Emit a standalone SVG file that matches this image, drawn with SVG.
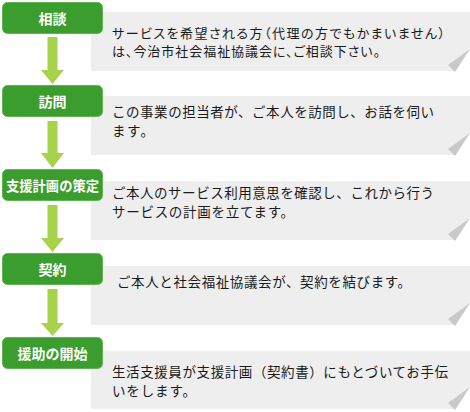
<svg xmlns="http://www.w3.org/2000/svg" width="470" height="412" viewBox="0 0 470 412">
<style>
.box{fill:#3a9d2e;stroke:#5fb64f;stroke-width:1}
.lbl{font-family:"Noto Sans CJK JP","Noto Sans",sans-serif;font-size:14px;font-weight:bold;fill:#ffffff;text-anchor:middle}
.panel{fill:#eeeeee}
.fold{fill:#c9c9c9}
.txt{font-family:"Noto Sans CJK JP","Noto Sans",sans-serif;font-size:13.5px;fill:#1a1a1a}
.p1{font-feature-settings:"palt";font-size:13px}
.arr{fill:#a6d34b}
</style>
<rect width="470" height="412" fill="#ffffff"/>
<g id="connectors">
<path class="arr" d="M47.5 37H57.5V70H64L52.5 84L41 70H47.5Z"/>
<path class="arr" d="M47.5 121H57.5V153H64L52.5 168L41 153H47.5Z"/>
<path class="arr" d="M47.5 205H57.5V238H64L52.5 252L41 238H47.5Z"/>
<path class="arr" d="M47.5 289H57.5V323H64L52.5 336L41 323H47.5Z"/>
</g>
<g id="note1">
<path class="panel" d="M91 12H470V49L455 71H91Z"/>
<path class="fold" d="M470 49L448 65L455 72Z"/>
<text class="txt p1"><tspan x="112" y="38" textLength="333" lengthAdjust="spacing">サービスを希望される方（代理の方でもかまいません）</tspan><tspan x="112" y="55.5" textLength="268" lengthAdjust="spacing">は、今治市社会福祉協議会に、ご相談下さい。</tspan></text>
</g>
<g id="note2">
<path class="panel" d="M91 96H470V133L455 155H91Z"/>
<path class="fold" d="M470 133L448 149L455 156Z"/>
<text class="txt"><tspan x="112" y="116.5" textLength="322" lengthAdjust="spacing">この事業の担当者が、ご本人を訪問し、お話を伺い</tspan><tspan x="112" y="135.5" textLength="42" lengthAdjust="spacing">ます。</tspan></text>
</g>
<g id="note3">
<path class="panel" d="M91 181H470V218L455 240H91Z"/>
<path class="fold" d="M470 218L448 234L455 241Z"/>
<text class="txt"><tspan x="112" y="197.5" textLength="322" lengthAdjust="spacing">ご本人のサービス利用意思を確認し、これから行う</tspan><tspan x="112" y="216.5" textLength="182" lengthAdjust="spacing">サービスの計画を立てます。</tspan></text>
</g>
<g id="note4">
<path class="panel" d="M91 266H470V303L455 325H91Z"/>
<path class="fold" d="M470 303L448 319L455 326Z"/>
<text class="txt" x="117" y="287" textLength="294" lengthAdjust="spacing">ご本人と社会福祉協議会が、契約を結びます。</text>
</g>
<g id="note5">
<path class="panel" d="M91 351H470V387L455 409H91Z"/>
<path class="fold" d="M470 387L448 403L455 410Z"/>
<text class="txt"><tspan x="112" y="376.5" textLength="336" lengthAdjust="spacing">生活支援員が支援計画（契約書）にもとづいてお手伝</tspan><tspan x="112" y="395.5" textLength="84" lengthAdjust="spacing">いをします。</tspan></text>
</g>
<g id="step1">
<rect class="box" x="2.5" y="2.5" width="100" height="31" rx="5"/>
<text class="lbl" x="52.5" y="24">相談</text>
</g>
<g id="step2">
<rect class="box" x="2.5" y="85.5" width="100" height="31" rx="5"/>
<text class="lbl" x="52.5" y="107">訪問</text>
</g>
<g id="step3">
<rect class="box" x="2.5" y="169.5" width="100" height="31" rx="5"/>
<text class="lbl" x="52.5" y="191" textLength="93" lengthAdjust="spacingAndGlyphs">支援計画の策定</text>
</g>
<g id="step4">
<rect class="box" x="2.5" y="253.5" width="100" height="31" rx="5"/>
<text class="lbl" x="52.5" y="275">契約</text>
</g>
<g id="step5">
<rect class="box" x="2.5" y="337.5" width="100" height="31" rx="5"/>
<text class="lbl" x="52.5" y="359">援助の開始</text>
</g>
</svg>
